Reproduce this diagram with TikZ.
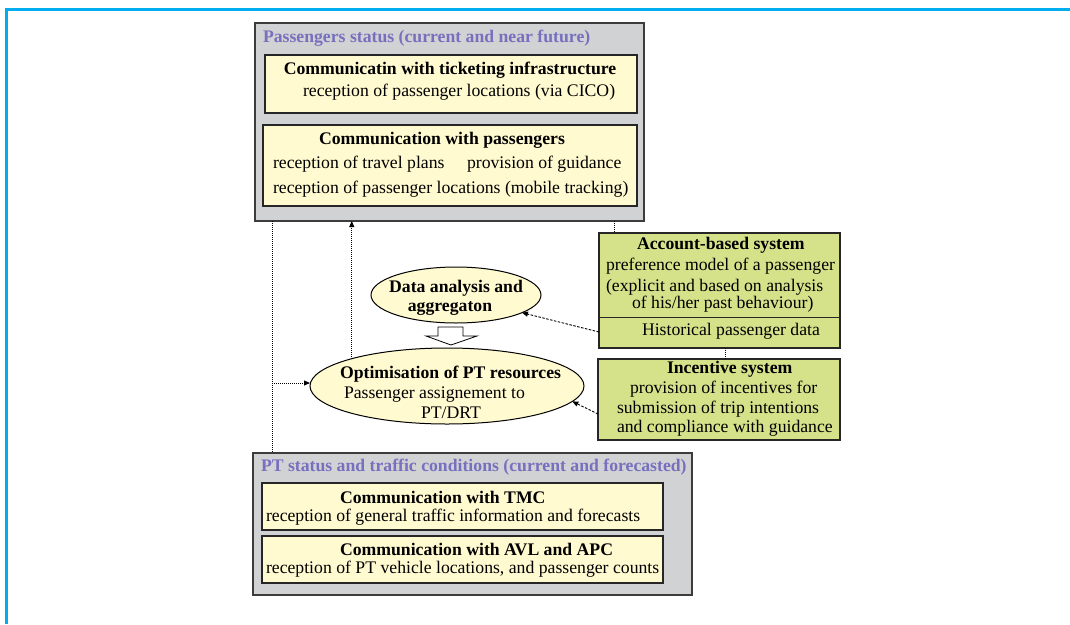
\documentclass[tikz,border=0pt]{standalone}
\usepackage{fontspec}
\setmainfont{Liberation Serif}
\usetikzlibrary{shapes.geometric,arrows.meta}
\definecolor{frameblue}{RGB}{0,174,239}
\definecolor{boxgray}{RGB}{209,210,212}
\definecolor{paleyellow}{RGB}{255,250,208}
\definecolor{leafgreen}{RGB}{213,226,138}
\definecolor{titlepurple}{RGB}{118,112,190}
\definecolor{edgegray}{RGB}{60,60,60}
\begin{document}
\begin{tikzpicture}[x=1pt,y=-1pt,
  txt/.style={inner sep=0pt, outer sep=0pt, anchor=base west, font=\fontsize{17.7}{21}\selectfont},
  btxt/.style={txt, font=\fontsize{17.7}{21}\selectfont\bfseries},
  ttl/.style={btxt, text=titlepurple},
  graybox/.style={draw=edgegray, line width=1.3pt, fill=boxgray, inner sep=0pt, outer sep=0pt, anchor=north west},
  yelbox/.style={draw=black!85, line width=1.6pt, fill=paleyellow, inner sep=0pt, outer sep=0pt, anchor=north west},
  grnbox/.style={draw=black!85, line width=1.3pt, fill=leafgreen, inner sep=0pt, outer sep=0pt, anchor=north west},
  oval/.style={ellipse, draw=black, line width=1pt, fill=paleyellow, inner sep=0pt, outer sep=0pt},
  dotline/.style={line width=0.8pt, dash pattern=on 1pt off 1pt},
  dashline/.style={line width=0.9pt, dash pattern=on 2.5pt off 1.5pt},
  tip/.style={-{Triangle[length=6pt,width=5pt]}}
]
\useasboundingbox (0,0) rectangle (1070,624);
% frame
\draw[frameblue, line width=3pt] (1070,9) -- (6.5,9) -- (6.5,624);

% top gray box
\node[graybox, minimum width=389, minimum height=198] (pass) at (255,23) {};
\node[ttl] (passT) at (263,42) {Passengers status (current and near future)};
\node[yelbox, minimum width=372, minimum height=58] (tick) at (265,55) {};
\node[btxt, anchor=base] (tick1) at (450,74) {Communicatin with ticketing infrastructure};
\node[txt] (tick2) at (303,96) {reception of passenger locations (via CICO)};
\node[yelbox, minimum width=374, minimum height=81] (comm) at (263,125) {};
\node[btxt, anchor=base] (comm1) at (442,144) {Communication with passengers};
\node[txt] (comm2) at (273,168) {reception of travel plans};
\node[txt] (comm3) at (467,168) {provision of guidance};
\node[txt] (comm4) at (273,193) {reception of passenger locations (mobile tracking)};

% ellipses
\node[oval, minimum width=170, minimum height=56] (da) at (456,295) {};
\node[btxt, anchor=base] (da1) at (456,292) {Data analysis and};
\node[btxt, anchor=base] (da2) at (450,311) {aggregaton};
\node[oval, minimum width=274, minimum height=76] (opt) at (447,386) {};
\node[btxt] (opt1) at (340,378) {Optimisation of PT resources};
\node[txt] (opt2) at (344,398) {Passenger assignement to};
\node[txt] (opt3) at (421,418) {PT/DRT};

% hollow arrow
\draw[line width=0.8pt, fill=white] (438,327) -- (463,327) -- (463,336) -- (477,336) -- (451,345) -- (426,336) -- (438,336) -- cycle;

% green boxes
\node[grnbox, minimum width=241, minimum height=115] (acc) at (599,233) {};
\draw[line width=1pt, black!85] (acc.west |- 0,317) -- (acc.east |- 0,317);
\node[btxt] (acc1) at (637,249) {Account-based system};
\node[txt] (acc2) at (606,270) {preference model of a passenger};
\node[txt] (acc3) at (606,291) {(explicit and based on analysis};
\node[txt] (acc4) at (632,308) {of his/her past behaviour)};
\node[txt] (acc5) at (642,335) {Historical passenger data};
\node[grnbox, minimum width=242, minimum height=81] (inc) at (598,359) {};
\node[btxt] (inc1) at (667,373) {Incentive system};
\node[txt] (inc2) at (630,393) {provision of incentives for};
\node[txt] (inc3) at (617,413) {submission of trip intentions};
\node[txt] (inc4) at (617,432) {and compliance with guidance};

% bottom gray box
\node[graybox, minimum width=439, minimum height=142] (pt) at (253,453) {};
\node[ttl] (ptT) at (261,471) {PT status and traffic conditions (current and forecasted)};
\node[yelbox, minimum width=401, minimum height=47] (tmc) at (262,483) {};
\node[btxt] (tmc1) at (340,503) {Communication with TMC};
\node[txt] (tmc2) at (266,521) {reception of general traffic information and forecasts};
\node[yelbox, minimum width=401, minimum height=47] (avl) at (262,536) {};
\node[btxt] (avl1) at (340,555) {Communication with AVL and APC};
\node[txt] (avl2) at (266,573) {reception of PT vehicle locations, and passenger counts};

% connectors
\coordinate (lx) at (272,0);
\coordinate (ax) at (614,0);
\coordinate (cx) at (725,0);
\draw[dotline] (lx |- pass.south) -- (lx |- pt.north);
\draw[dotline, tip] (lx |- 0,383) -- (opt.west |- 0,383);
\draw[dotline, tip] (opt.164) -- (opt.164 |- pass.south);
\draw[dotline] (ax |- pass.south) -- (ax |- acc.north);
\draw[dotline] (cx |- acc.south) -- (cx |- inc.north);
\draw[dashline, tip] (acc.west |- 0,332) -- (da.-15);
\draw[dashline, tip] (inc.west |- 0,414) -- (opt.-7);
\end{tikzpicture}
\end{document}
